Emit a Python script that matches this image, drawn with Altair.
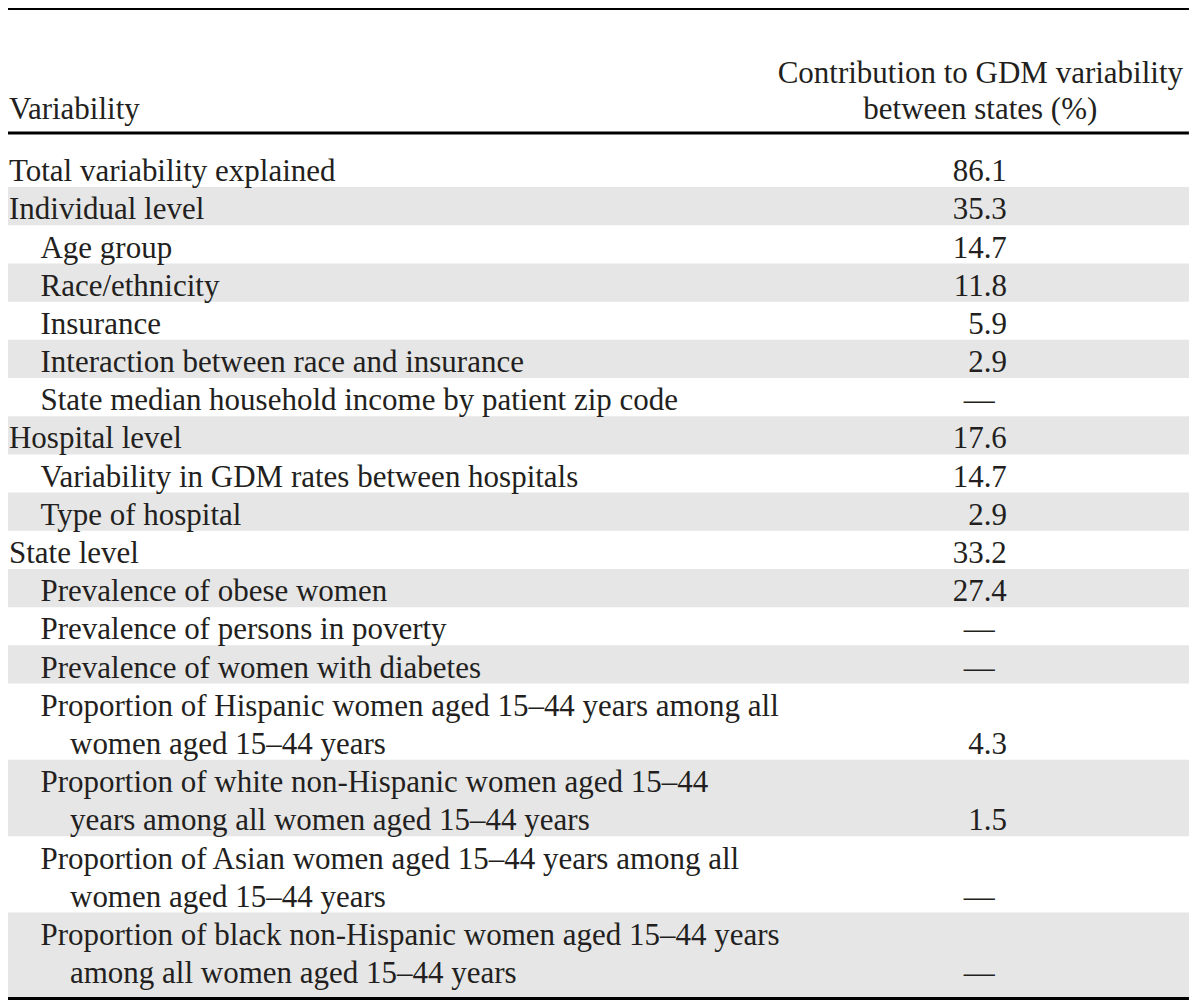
import altair as alt
import pandas as pd

# ---------------- data ----------------
header_left = "Variability"
header_right = ["Contribution to GDM variability", "between states (%)"]

labels = [
    "Total variability explained",
    "Individual level",
    "Age group",
    "Race/ethnicity",
    "Insurance",
    "Interaction between race and insurance",
    "State median household income by patient zip code",
    "Hospital level",
    "Variability in GDM rates between hospitals",
    "Type of hospital",
    "State level",
    "Prevalence of obese women",
    "Prevalence of persons in poverty",
    "Prevalence of women with diabetes",
    "Proportion of Hispanic women aged 15–44 years among all|women aged 15–44 years",
    "Proportion of white non-Hispanic women aged 15–44|years among all women aged 15–44 years",
    "Proportion of Asian women aged 15–44 years among all|women aged 15–44 years",
    "Proportion of black non-Hispanic women aged 15–44 years|among all women aged 15–44 years",
]
levels = [0, 0, 1, 1, 1, 1, 1, 0, 1, 1, 0, 1, 1, 1, 1, 1, 1, 1]
values = ["86.1", "35.3", "14.7", "11.8", "5.9", "2.9", "—", "17.6", "14.7", "2.9",
          "33.2", "27.4", "—", "—", "4.3", "1.5", "—", "—"]

# ---------------- layout (reference pixel space) ----------------
REF_W, REF_H = 1200, 1008
S = 992 / 1008
FONT = "Liberation Serif"
FS = 31.5 * S
INK = "#231f20"
SHADE = "#e6e6e6"

PITCH = 38.8
BASE0 = 176.0
INDENT = {0: 1, 1: 33}
CONT = 30
NUM_RIGHT = 1015
DASH_CENTER = 987
HEAD_CENTER = 988
BOTTOM_Y = 1005

line_rows, band_rows, value_rows = [], [], []
L = 0
for i, (lab, lev, val) in enumerate(zip(labels, levels, values)):
    parts = lab.split("|")
    for j, p in enumerate(parts):
        line_rows.append({"text": p,
                          "x": INDENT[lev] + (CONT if j > 0 else 0),
                          "y": BASE0 + PITCH * (L + j)})
    last = L + len(parts) - 1
    value_rows.append({"text": val, "y": BASE0 + PITCH * last,
                       "dash": val == "—",
                       "x": DASH_CENTER if val == "—" else NUM_RIGHT})
    if i % 2 == 1:
        y1 = BASE0 + PITCH * last + 6
        if i == len(labels) - 1:
            y1 = BOTTOM_Y
        band_rows.append({"x": 0, "x2": REF_W,
                          "y": BASE0 + PITCH * L - 32.8, "y2": y1})
    L += len(parts)

lines_df = pd.DataFrame(line_rows)
bands_df = pd.DataFrame(band_rows)
vals_df = pd.DataFrame(value_rows)
rules_df = pd.DataFrame({"x": [0, 0, 0], "x2": [REF_W] * 3,
                         "y": [1.0, 127.0, 1006.5], "w": [2 * S, 3 * S, 3 * S]})
head_df = pd.DataFrame({"text": [header_right[0], header_right[1]],
                        "x": [HEAD_CENTER, HEAD_CENTER], "y": [76.0, 113.0]})
headl_df = pd.DataFrame({"text": [header_left], "x": [1], "y": [113.0]})

xs = alt.Scale(domain=[0, REF_W], range=[0, REF_W * S])
ys = alt.Scale(domain=[0, REF_H], range=[0, REF_H * S])

def X(f="x"):
    return alt.X(f"{f}:Q", scale=xs, axis=None)

def Y(f="y"):
    return alt.Y(f"{f}:Q", scale=ys, axis=None)

bands = alt.Chart(bands_df).mark_rect(color=SHADE).encode(
    x=X(), x2="x2:Q", y=Y(), y2="y2:Q")

rules = alt.Chart(rules_df).mark_rule(color="#000000").encode(
    x=X(), x2="x2:Q", y=Y(),
    strokeWidth=alt.StrokeWidth("w:Q", scale=None, legend=None))

txt = dict(font=FONT, fontSize=FS, color=INK, baseline="alphabetic")

label_text = alt.Chart(lines_df).mark_text(align="left", **txt).encode(
    x=X(), y=Y(), text="text:N")

num_text = alt.Chart(vals_df).transform_filter("!datum.dash").mark_text(
    align="right", **txt).encode(x=X(), y=Y(), text="text:N")

dash_text = alt.Chart(vals_df).transform_filter("datum.dash").mark_text(
    align="center", **txt).encode(x=X(), y=Y(), text="text:N")

head_r = alt.Chart(head_df).mark_text(align="center", **txt).encode(
    x=X(), y=Y(), text="text:N")
head_l = alt.Chart(headl_df).mark_text(align="left", **txt).encode(
    x=X(), y=Y(), text="text:N")

chart = alt.layer(bands, rules, label_text, num_text, dash_text, head_r, head_l).properties(
    width=REF_W * S, height=REF_H * S, padding=0,
    autosize=alt.AutoSizeParams(type="none"),
    background="white",
).configure_view(stroke=None)

chart.save("out.html", embed_options={"renderer": "svg", "actions": False})
